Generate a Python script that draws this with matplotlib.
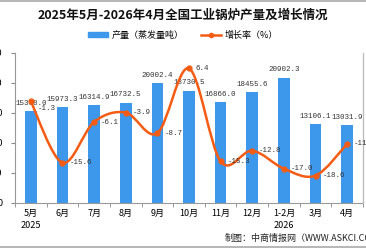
import matplotlib
matplotlib.use("Agg")
import matplotlib.pyplot as plt
from matplotlib.path import Path
from matplotlib.patches import PathPatch, Patch
from matplotlib.lines import Line2D
import numpy as np

plt.rcParams['font.family'] = ['Noto Sans CJK SC', 'DejaVu Sans']

categories = ["5月\n2025", "6月", "7月", "8月", "9月", "10月", "11月", "12月", "1-2月\n2026", "3月", "4月"]
output = [15308.0, 15973.3, 16314.9, 16732.5, 20002.4, 18730.5, 16866.0, 18455.6, 20902.3, 13106.1, 13031.9]
growth = [-1.3, -15.6, -6.1, -3.9, -8.7, 6.4, -15.3, -12.8, -17.0, -18.6, -11.2]

bar_color = "#3D97EA"
line_color = "#F45C14"
W, H = 366, 248
fig = plt.figure(figsize=(W / 100, H / 100), dpi=100)
ax = fig.add_axes([15 / W, 1 - 203 / H, (363 - 15) / W, 150 / H])
x = np.arange(len(categories))
ax.bar(x, output, width=0.37, color=bar_color, zorder=2)
ax.set_xlim(-0.5, len(categories) - 0.5)
ax.set_ylim(0, 25000)
ax.set_yticks(np.arange(0, 25001, 5000))
ax.set_yticklabels([f"{v:d}" for v in range(0, 25001, 5000)], fontsize=6.5)
ax.tick_params(axis='y', length=3, pad=6, color="#888888")
ax.set_xticks(x)
ax.set_xticklabels(categories, fontsize=6.5, linespacing=1.5)
ax.set_xticks(np.arange(-0.5, len(categories), 1), minor=True)
ax.tick_params(axis='x', which='major', length=0, pad=4)
ax.tick_params(axis='x', which='minor', length=3, color="#888888")
for s in ['top']:
    ax.spines[s].set_visible(False)
for s in ['left', 'bottom', 'right']:
    ax.spines[s].set_color("#999999")
    ax.spines[s].set_linewidth(0.8)

for xi, v in zip(x, output):
    ax.annotate(f"{v:.1f}", (xi, v), xytext=(0, 3), textcoords='offset points',
                ha='center', va='bottom', fontsize=5.4, family='Liberation Mono', color="#333333", zorder=3)

ax2 = ax.twinx()
ax2.set_ylim(-25, 10)
ax2.set_yticks([])
for s in ['top', 'left', 'bottom']:
    ax2.spines[s].set_visible(False)
ax2.spines['right'].set_color("#bbbbbb")
ax2.spines['right'].set_linewidth(0.8)

# smooth line through points with Bezier segments
pts = np.column_stack([x, growth]).astype(float)
n = len(pts)
verts = [tuple(pts[0])]
codes = [Path.MOVETO]
for i in range(n - 1):
    p_prev = pts[i - 1] if i > 0 else pts[i]
    p_next2 = pts[i + 2] if i + 2 < n else pts[i + 1]
    c1 = pts[i] + (pts[i + 1] - p_prev) / 6
    c2 = pts[i + 1] - (p_next2 - pts[i]) / 6
    verts += [tuple(c1), tuple(c2), tuple(pts[i + 1])]
    codes += [Path.CURVE4] * 3
ax2.add_patch(PathPatch(Path(verts, codes), facecolor='none', edgecolor=line_color, lw=1.8, zorder=4))
ax2.plot(x, growth, 'o', color=line_color, ms=3.5, zorder=5)
for xi, g in zip(x, growth):
    dy = -5 if xi == 0 else 0
    ax2.annotate(f"{g:.1f}", (xi, g), xytext=(5, dy), textcoords='offset points',
                 ha='left', va='center', fontsize=5.4, family='Liberation Mono', color="#333333", zorder=6)

fig.text(0.5, 1 - 15 / H, "2025年5月-2026年4月全国工业锅炉产量及增长情况", ha='center', va='center',
         fontsize=9, fontweight='bold', color="#111111")
handles = [Patch(color=bar_color), Line2D([], [], color=line_color, lw=1.8, marker='o', ms=3)]
fig.legend(handles, ["产量（蒸发量吨）", "增长率（%）"], loc='center', bbox_to_anchor=(0.5, 1 - 35 / H),
           ncol=2, frameon=False, fontsize=6.5, handlelength=2.2, handleheight=0.5, columnspacing=2.0,
           handletextpad=0.4)
fig.text(225 / W, 1 - 238 / H, "制图：中商情报网（WWW.ASKCI.COM）", ha='left', va='center', fontsize=6.5, color="#222222")
fig.add_artist(Line2D([0, 1], [1 - 0.5 / H, 1 - 0.5 / H], transform=fig.transFigure, color="#aaaaaa", lw=1.2))
fig.add_artist(Line2D([0, 1], [1 - 246.5 / H, 1 - 246.5 / H], transform=fig.transFigure, color="#aaaaaa", lw=1.2))

fig.savefig("out.png", dpi=100)
